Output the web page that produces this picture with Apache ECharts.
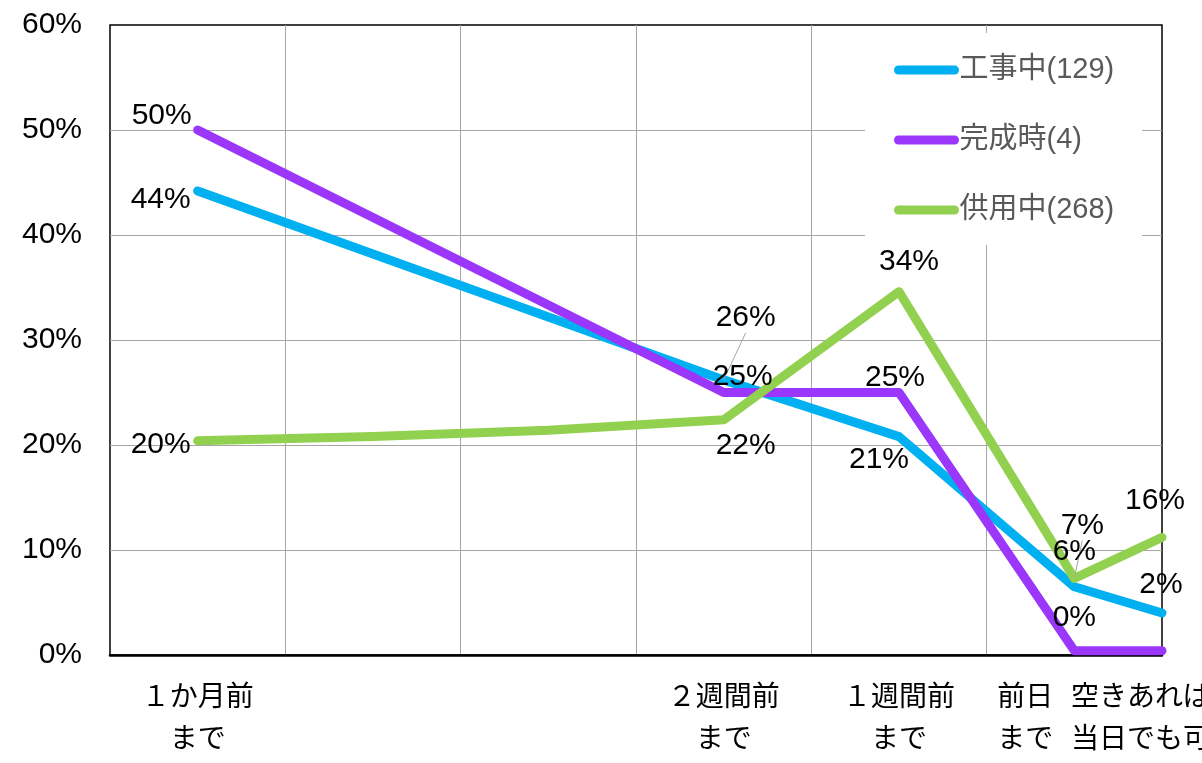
<!DOCTYPE html>
<html>
<head>
<meta charset="utf-8">
<script src="https://cdn.jsdelivr.net/npm/echarts@6/dist/echarts.min.js"></script>
<style>
html, body { margin: 0; padding: 0; background: #fff; }
#chart { width: 1202px; height: 763px; }
</style>
</head>
<body>
<div id="chart"></div>
<script>
// x positions on the timeline (one unit = one grid column)
const xPos = [0.5, 1.5, 2.5, 3.5, 4.5, 5.5, 6.0]

// category labels and where they sit on the x axis
const catNames = ['１か月前\nまで', '２週間前\nまで', '１週間前\nまで', '前日\nまで', '空きあれば\n当日でも可']
const catPos = [0.5, 3.5, 4.5, 5.22, 5.88]

const seriesNames = ['工事中(129)', '完成時(4)', '供用中(268)']

// values in % (null = no point)
const kojiValues = [44.2, null, null, 26.2, 20.8, 6.5, 4.0]
const kanseiValues = [50.0, null, null, 25.0, 25.0, 0.4, 0.4]
const kyoyoValues = [20.4, 20.8, 21.4, 22.4, 34.6, 7.3, 11.2]

// data label texts as printed on the chart
const kojiLabels = ['44%', '', '', '26%', '21%', '6%', '2%']
const kanseiLabels = ['50%', '', '', '25%', '25%', '0%', '']
const kyoyoLabels = ['20%', '', '', '22%', '34%', '7%', '16%']

const yTicks = [0, 10, 20, 30, 40, 50, 60]

// label placement (px from the point) + which ones get a leader line
const kojiOffsets = [[-37, 9], null, null, [22, -62], [-20, 23], [0, -35], [-1, -28]]
const kanseiOffsets = [[-36, -14], null, null, [19, -16], [-4, -15], [0, -33], [0, 0]]
const kyoyoOffsets = [[-37, 4], [0, 0], [0, 0], [22, 26], [10, -30], [8, -53], [-7, -37]]
const kojiGuides = [3]
const kanseiGuides = []
const kyoyoGuides = [5]

const colors = ['#00B0F0', '#9B36FB', '#92D050']
const numFont = "'Liberation Sans', 'Noto Sans CJK JP', sans-serif"

function buildSeries(name, values, labels, offsets, guides, color) {
    const data = []
    const offs = []
    values.forEach((v, i) => {
        if (v === null) return
        data.push({
            value: [xPos[i], v],
            label: { show: labels[i] !== '', formatter: labels[i] },
            labelLine: { show: guides.includes(i) }
        })
        offs.push(offsets[i] || [0, 0])
    })
    return {
        name: name,
        type: 'line',
        data: data,
        symbol: 'circle',
        symbolSize: 1,
        showAllSymbol: true,
        itemStyle: { color: color },
        lineStyle: { color: color, width: 9, cap: 'round', join: 'round' },
        emphasis: { disabled: true },
        animation: false,
        label: {
            show: true,
            position: 'inside',
            color: '#000',
            fontSize: 30,
            fontFamily: numFont
        },
        labelLine: {
            show: false,
            lineStyle: { color: '#a6a6a6', width: 1 }
        },
        labelLayout: function (p) {
            const o = offs[p.dataIndex]
            return { dx: o[0], dy: o[1] }
        }
    }
}

const myChart = echarts.init(document.getElementById('chart'))

const option = {
    backgroundColor: '#fff',
    animation: false,
    grid: {
        left: 110,
        right: 40,
        top: 25,
        bottom: 108,
        outerBoundsMode: 'none',
        containLabel: false,
        show: true,
        borderColor: '#000',
        borderWidth: 1.5
    },
    legend: {
        data: seriesNames,
        orient: 'vertical',
        left: 865,
        top: 33,
        padding: [22, 28, 20, 29],
        backgroundColor: '#fff',
        itemWidth: 56,
        itemHeight: 9,
        itemGap: 40,
        lineStyle: { width: 9, cap: 'round' },
        textStyle: {
            color: '#595959',
            fontSize: 29,
            lineHeight: 30,
            fontFamily: numFont
        }
    },
    xAxis: {
        type: 'value',
        min: 0,
        max: 6,
        interval: 1,
        axisLine: { show: true, lineStyle: { color: '#000', width: 2.5 } },
        axisTick: { show: false },
        splitLine: {
            show: true,
            showMinLine: false,
            showMaxLine: false,
            lineStyle: { color: '#a6a6a6', width: 1 }
        },
        axisLabel: {
            customValues: catPos,
            formatter: function (v) {
                const i = catPos.indexOf(v)
                return i >= 0 ? catNames[i] : ''
            },
            color: '#000',
            fontSize: 28,
            lineHeight: 42,
            margin: 19,
            fontFamily: "'Noto Sans CJK JP', sans-serif"
        }
    },
    yAxis: {
        type: 'value',
        min: yTicks[0],
        max: yTicks[yTicks.length - 1],
        interval: 10,
        axisLine: { show: false },
        axisTick: { show: false },
        splitLine: {
            show: true,
            showMinLine: false,
            showMaxLine: false,
            lineStyle: { color: '#a6a6a6', width: 1 }
        },
        axisLabel: {
            formatter: '{value}%',
            color: '#000',
            fontSize: 30,
            margin: 28,
            fontFamily: numFont
        }
    },
    series: [
        buildSeries(seriesNames[0], kojiValues, kojiLabels, kojiOffsets, kojiGuides, colors[0]),
        buildSeries(seriesNames[1], kanseiValues, kanseiLabels, kanseiOffsets, kanseiGuides, colors[1]),
        buildSeries(seriesNames[2], kyoyoValues, kyoyoLabels, kyoyoOffsets, kyoyoGuides, colors[2])
    ]
}

option && myChart.setOption(option)
</script>
</body>
</html>
